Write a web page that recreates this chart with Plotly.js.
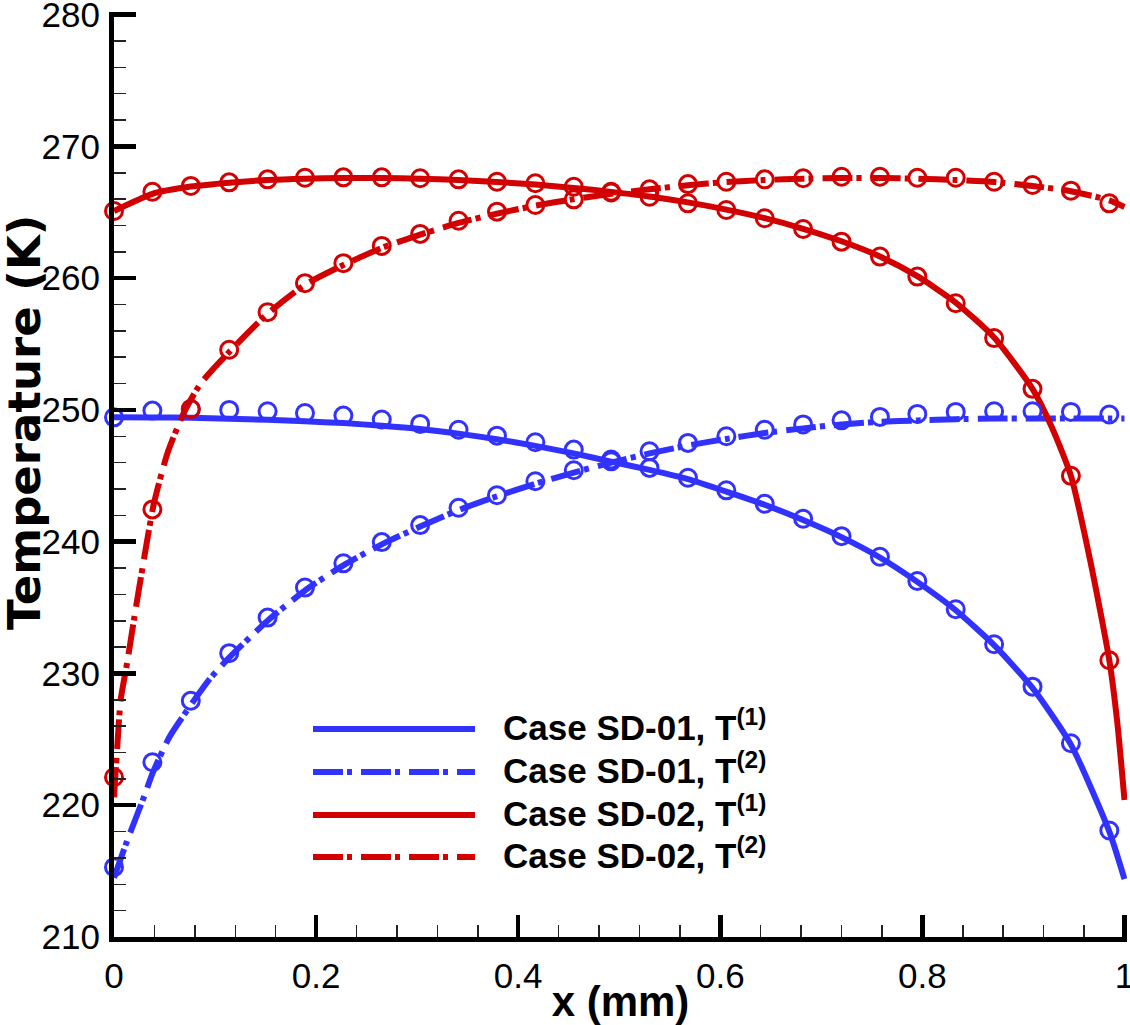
<!DOCTYPE html>
<html>
<head>
<meta charset="utf-8">
<script src="https://cdn.plot.ly/plotly-3.0.1.min.js"></script>
<style>
html,body{margin:0;padding:0;background:#fff;}
#chart{width:1130px;height:1025px;}
</style>
</head>
<body>
<div id="chart"></div>
<script>
// ---------- data ----------
const markerX = [0, 0.038, 0.076, 0.114, 0.152, 0.189, 0.227, 0.265, 0.303, 0.341, 0.379, 0.417, 0.455,
                 0.492, 0.530, 0.568, 0.606, 0.644, 0.682, 0.720, 0.758, 0.795, 0.833, 0.871, 0.909, 0.947, 0.985];

const sd01T1Markers = [249.44, 249.95, 250.07, 250.0, 249.9, 249.77, 249.57, 249.27, 248.94, 248.5, 248.05, 247.55, 246.99,
                       246.23, 245.6, 244.85, 243.9, 242.88, 241.74, 240.42, 238.86, 237.02, 234.87, 232.22, 229.0, 224.7, 218.08];
const sd01T2Markers = [215.3, 223.26, 227.93, 231.54, 234.24, 236.52, 238.36, 239.97, 241.26, 242.58, 243.53, 244.59, 245.42,
                       246.1, 246.86, 247.5, 248.0, 248.5, 248.9, 249.21, 249.47, 249.7, 249.85, 249.9, 249.9, 249.85, 249.65];
const sd02T1Markers = [265.1, 266.56, 267.0, 267.27, 267.5, 267.62, 267.65, 267.65, 267.58, 267.5, 267.32, 267.2, 266.94,
                       266.56, 266.18, 265.68, 265.17, 264.55, 263.73, 262.77, 261.64, 260.12, 258.1, 255.45, 251.6, 245.0, 231.0];
const sd02T2Markers = [222.12, 242.45, 250.07, 254.57, 257.42, 259.62, 261.14, 262.45, 263.36, 264.36, 265.05, 265.55, 265.98,
                       266.5, 266.74, 267.14, 267.32, 267.5, 267.58, 267.7, 267.7, 267.62, 267.62, 267.32, 267.07, 266.64, 265.68];

const sd01T1LineX = [0, 0.038, 0.076, 0.114, 0.152, 0.189, 0.227, 0.265, 0.303, 0.341, 0.379, 0.417, 0.455, 0.492,
                     0.530, 0.568, 0.606, 0.644, 0.682, 0.720, 0.758, 0.795, 0.833, 0.871, 0.909, 0.947, 0.985, 1.0];
const sd01T1LineY = [249.44, 249.43, 249.4, 249.34, 249.25, 249.14, 249.0, 248.8, 248.55, 248.2, 247.78, 247.27, 246.7, 246.08,
                     245.45, 244.75, 243.8, 242.8, 241.65, 240.35, 238.8, 236.95, 234.8, 232.15, 228.9, 224.6, 218.0, 214.4];

const sd01T2LineX = [0, 0.013, 0.03, 0.038, 0.055, 0.076, 0.095, 0.114, 0.152, 0.189, 0.227, 0.265, 0.303, 0.341, 0.379, 0.417,
                     0.455, 0.492, 0.530, 0.568, 0.606, 0.644, 0.682, 0.720, 0.758, 0.795, 0.833, 0.871, 0.909, 0.947, 0.985, 1.0];
const sd01T2LineY = [214.5, 217.3, 220.7, 222.4, 225.2, 227.6, 229.6, 231.2, 234.0, 236.3, 238.2, 239.8, 241.15, 242.4, 243.45, 244.4,
                     245.25, 246.0, 246.7, 247.3, 247.8, 248.25, 248.6, 248.9, 249.1, 249.2, 249.3, 249.35, 249.35, 249.35, 249.35, 249.35];

const sd02T1LineX = [0, 0.038, 0.076, 0.114, 0.152, 0.189, 0.227, 0.265, 0.303, 0.341, 0.379, 0.417, 0.455, 0.492,
                     0.530, 0.568, 0.606, 0.644, 0.682, 0.720, 0.758, 0.795, 0.833, 0.871, 0.909, 0.928, 0.947,
                     0.966, 0.985, 0.993, 1.0];
const sd02T1LineY = [265.1, 266.4, 266.95, 267.25, 267.45, 267.55, 267.6, 267.6, 267.55, 267.45, 267.3, 267.1, 266.85, 266.55,
                     266.2, 265.75, 265.2, 264.55, 263.75, 262.8, 261.65, 260.15, 258.15, 255.5, 251.6, 248.7, 245.0,
                     238.6, 231.0, 226.2, 220.4];

const sd02T2LineX = [0, 0.0033, 0.0066, 0.0132, 0.0198, 0.0297, 0.0395, 0.0528, 0.0692, 0.0857, 0.114, 0.152, 0.189, 0.227,
                     0.265, 0.303, 0.341, 0.379, 0.417, 0.455, 0.492, 0.530, 0.568, 0.606, 0.644, 0.682, 0.720, 0.758,
                     0.795, 0.833, 0.871, 0.909, 0.947, 0.985, 1.0];
const sd02T2LineY = [220.6, 224.5, 228.0, 230.9, 234.1, 238.7, 242.9, 246.7, 249.8, 252.0, 254.4, 257.3, 259.5, 261.0,
                     262.3, 263.3, 264.2, 264.9, 265.5, 266.0, 266.4, 266.75, 267.05, 267.3, 267.45, 267.55, 267.6, 267.6,
                     267.55, 267.45, 267.3, 267.0, 266.6, 265.9, 265.4];

const seriesNames = ["Case SD-01, T<sup>(1)</sup>", "Case SD-01, T<sup>(2)</sup>",
                     "Case SD-02, T<sup>(1)</sup>", "Case SD-02, T<sup>(2)</sup>"];

// ---------- styling ----------
const BLUE = "rgb(50,50,255)";
const RED = "rgb(210,0,0)";
const DASHDOT = "30px,4px,5px,9px";
const LW = 6;

const W = 1130, H = 1025;
const M = {l: 114, r: 3, t: 12, b: 88};
const PW = W - M.l - M.r, PH = H - M.t - M.b;
const px2paperX = px => (px - M.l) / PW;
const px2paperY = py => 1 - (py - M.t) / PH;

function lineTrace(x, y, color, dash) {
  return {x: x, y: y, type: "scatter", mode: "lines",
          line: {color: color, width: LW, dash: dash, shape: "spline", smoothing: 0.6},
          showlegend: false, hoverinfo: "skip", cliponaxis: true};
}
function markerTrace(x, y, color) {
  return {x: x, y: y, type: "scatter", mode: "markers",
          marker: {symbol: "circle-open", size: 17, color: color, line: {color: color, width: 3}},
          showlegend: false, cliponaxis: false};
}

const traces = [
  lineTrace(sd01T1LineX, sd01T1LineY, BLUE, "solid"),
  lineTrace(sd01T2LineX, sd01T2LineY, BLUE, DASHDOT),
  lineTrace(sd02T1LineX, sd02T1LineY, RED, "solid"),
  lineTrace(sd02T2LineX, sd02T2LineY, RED, DASHDOT),
  markerTrace(markerX, sd01T1Markers, BLUE),
  markerTrace(markerX, sd01T2Markers, BLUE),
  markerTrace(markerX, sd02T1Markers, RED),
  markerTrace(markerX, sd02T2Markers, RED)
];

// ---------- hand-built legend (long line samples as in reference) ----------
const legendRowsPx = [729, 772, 815, 857];
const legendColors = [BLUE, BLUE, RED, RED];
const legendDash = ["solid", DASHDOT, "solid", DASHDOT];
const shapes = [], annotations = [];
legendRowsPx.forEach((py, i) => {
  shapes.push({type: "line", xref: "paper", yref: "paper",
               x0: px2paperX(313), x1: px2paperX(475), y0: px2paperY(py), y1: px2paperY(py),
               line: {color: legendColors[i], width: LW, dash: legendDash[i]}});
  annotations.push({xref: "paper", yref: "paper", x: px2paperX(501), y: px2paperY(py),
                    xanchor: "left", yanchor: "middle", yshift: 4, showarrow: false,
                    text: seriesNames[i],
                    font: {family: "Liberation Sans, Arial, sans-serif", size: 35, color: "#000", weight: "bold"}});
});

// y-axis title placed as an annotation for exact positioning
annotations.push({xref: "paper", yref: "paper", x: px2paperX(24), y: px2paperY(423),
                  xanchor: "center", yanchor: "middle", textangle: -90, showarrow: false,
                  text: "Temperature (K)",
                  font: {family: "DejaVu Sans, sans-serif", size: 45, color: "#000", weight: "bold"}});

const tickFont = {family: "Liberation Sans, Arial, sans-serif", size: 35, color: "#000"};

const layout = {
  width: W, height: H,
  margin: M,
  paper_bgcolor: "#fff", plot_bgcolor: "#fff",
  showlegend: false,
  xaxis: {
    range: [0, 1.0025], dtick: 0.2, tick0: 0,
    showgrid: false, zeroline: false,
    showline: true, linecolor: "#000", linewidth: 5, mirror: false,
    ticks: "inside", ticklen: 22, tickwidth: 4.5, tickcolor: "#000",
    minor: {dtick: 0.04, ticks: "inside", ticklen: 12, tickwidth: 1.5, tickcolor: "#222", showgrid: false},
    tickfont: tickFont, ticklabelstandoff: 4, ticklabeloverflow: "allow",
    title: {text: "x (mm)", standoff: 10,
            font: {family: "Liberation Sans, Arial, sans-serif", size: 42, color: "#000", weight: "bold"}}
  },
  yaxis: {
    range: [210, 280.2], dtick: 10, tick0: 210,
    showgrid: false, zeroline: false,
    showline: true, linecolor: "#000", linewidth: 5, mirror: false,
    ticks: "inside", ticklen: 22, tickwidth: 4.5, tickcolor: "#000",
    minor: {dtick: 2, ticks: "inside", ticklen: 12, tickwidth: 1.5, tickcolor: "#222", showgrid: false},
    tickfont: tickFont, ticklabelstandoff: 2, ticklabeloverflow: "allow"
  },
  shapes: shapes,
  annotations: annotations
};

Plotly.newPlot("chart", traces, layout, {staticPlot: true, displayModeBar: false});
</script>
</body>
</html>
